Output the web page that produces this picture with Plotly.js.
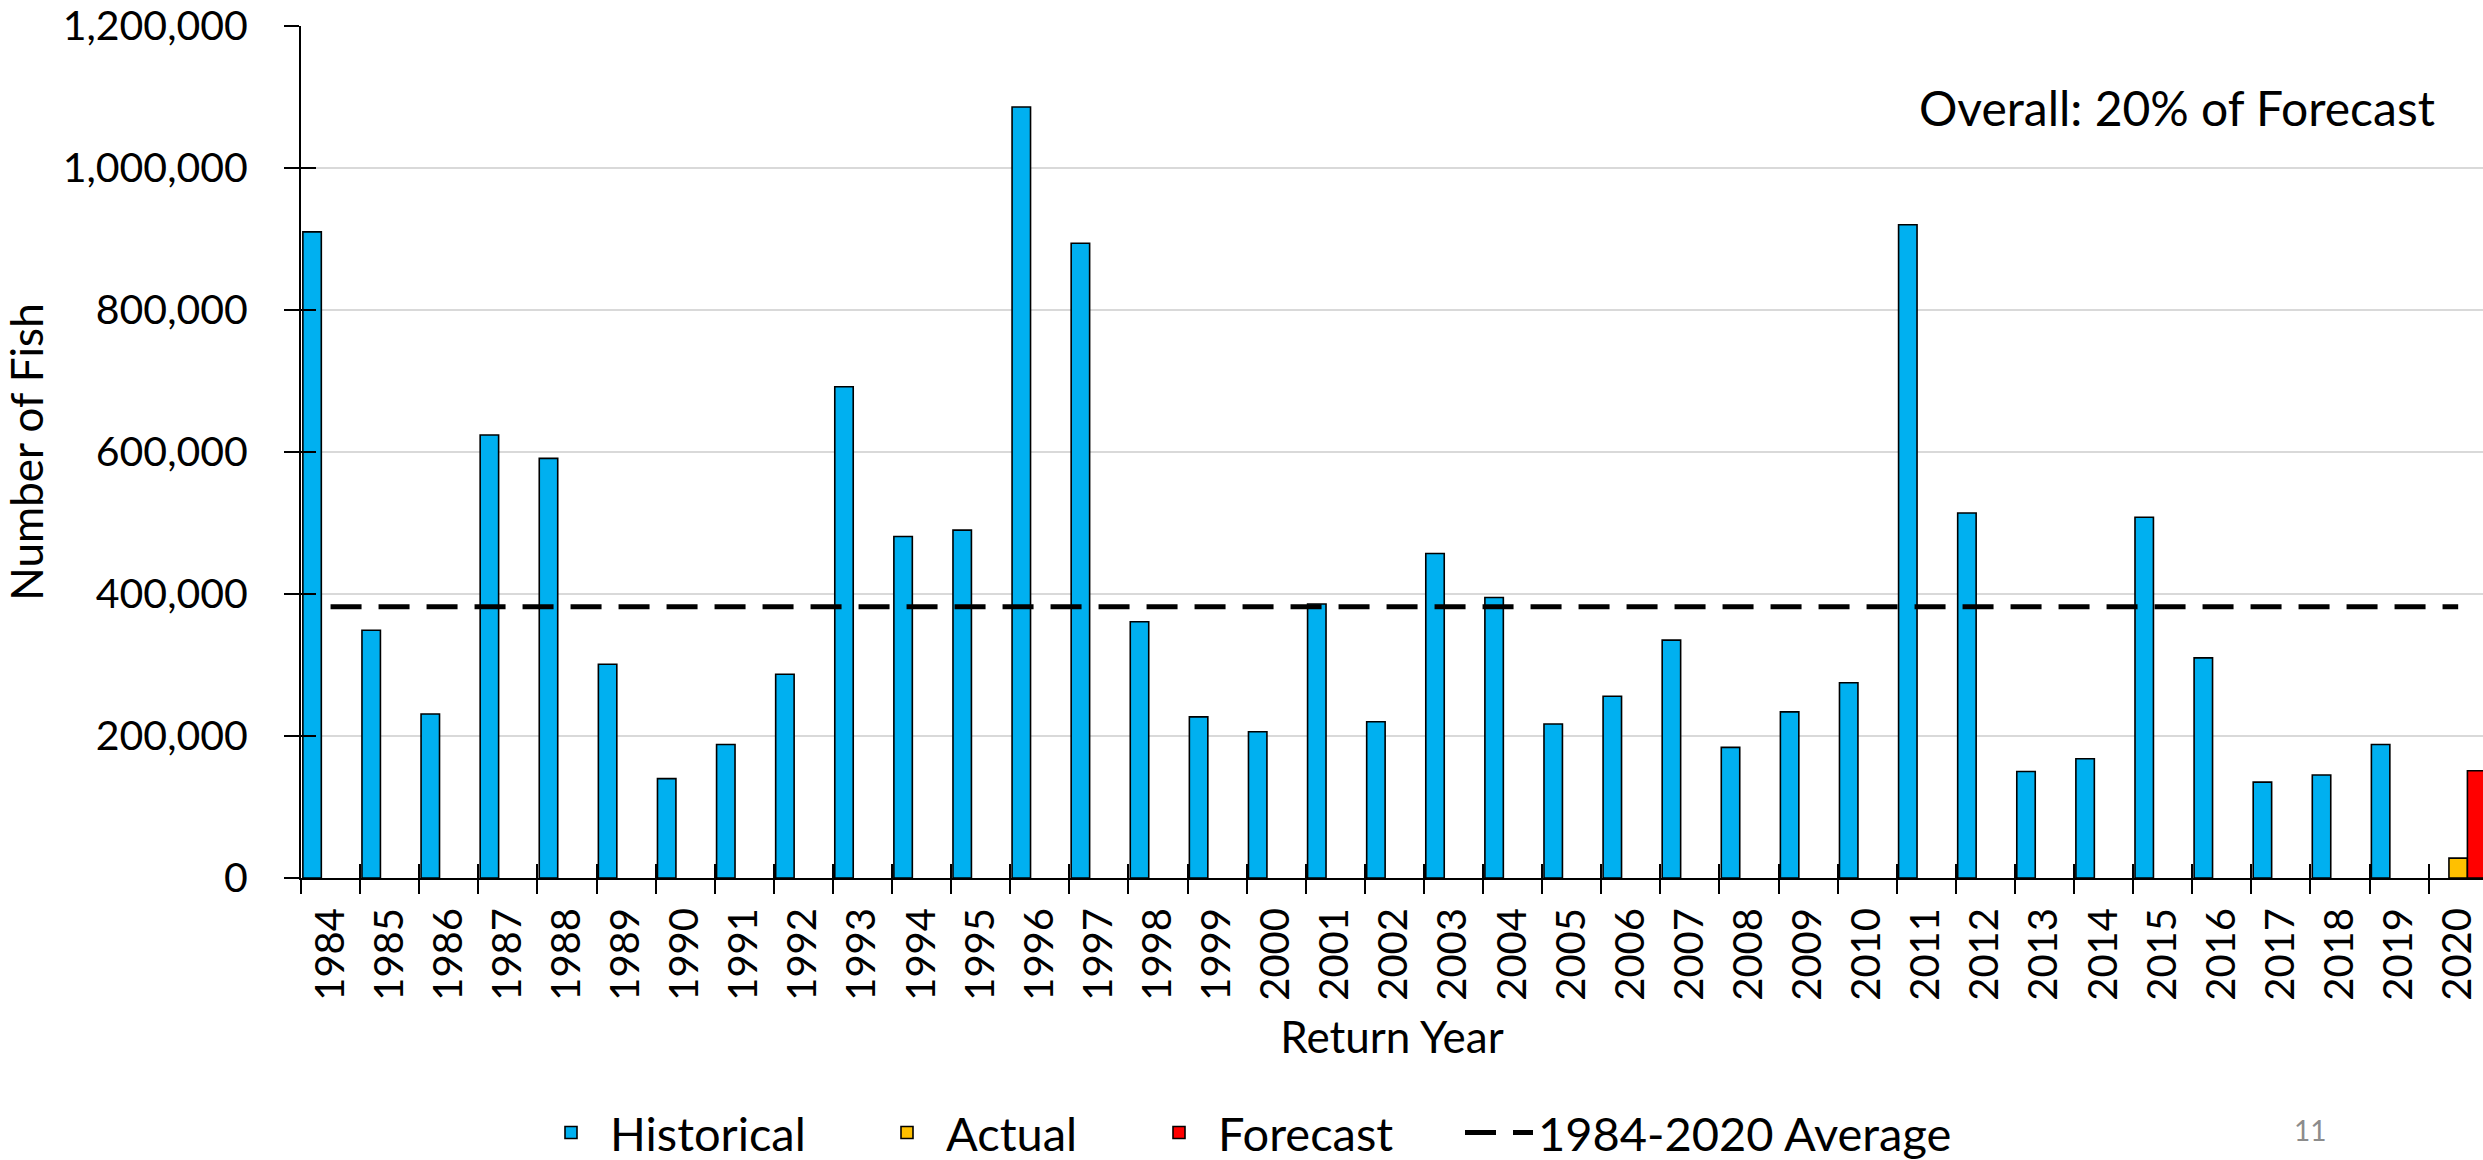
<!DOCTYPE html>
<html>
<head>
<meta charset="utf-8">
<script src="https://cdn.plot.ly/plotly-3.0.1.min.js"></script>
<style>
html,body{margin:0;padding:0;overflow:hidden;background:#ffffff;}
#chart{width:2483px;height:1160px;}
</style>
</head>
<body>
<div id="chart"></div>
<script>
// ---- Data ----
const years = ['1984','1985','1986','1987','1988','1989','1990','1991','1992','1993',
  '1994','1995','1996','1997','1998','1999','2000','2001','2002','2003',
  '2004','2005','2006','2007','2008','2009','2010','2011','2012','2013',
  '2014','2015','2016','2017','2018','2019','2020'];

const historicalYears = ['1984','1985','1986','1987','1988','1989','1990','1991','1992','1993',
  '1994','1995','1996','1997','1998','1999','2000','2001','2002','2003',
  '2004','2005','2006','2007','2008','2009','2010','2011','2012','2013',
  '2014','2015','2016','2017','2018','2019'];
const historical = [910000, 349000, 231000, 624000, 591000, 301000, 140000, 188000, 287000, 692000,
  481000, 490000, 1086000, 894000, 361000, 227000, 206000, 386000, 220000, 457000,
  395000, 217000, 256000, 335000, 184000, 234000, 275000, 920000, 514000, 150000,
  168000, 508000, 310000, 135000, 145000, 188000];

const actualYears = ['2020'];
const actual = [28000];

const forecastYears = ['2020'];
const forecast = [151000];

const average = [382000, 382000, 382000, 382000, 382000, 382000, 382000, 382000, 382000, 382000,
  382000, 382000, 382000, 382000, 382000, 382000, 382000, 382000, 382000, 382000,
  382000, 382000, 382000, 382000, 382000, 382000, 382000, 382000, 382000, 382000,
  382000, 382000, 382000, 382000, 382000, 382000, 382000];

const yTicks = [0, 200000, 400000, 600000, 800000, 1000000, 1200000];
const yTickLabels = ['0', '200,000', '400,000', '600,000', '800,000', '1,000,000', '1,200,000'];

// ---- Chart ----
const FONT = 'Lato, "Open Sans", sans-serif';
const barLine = {color: '#000000', width: 1.6};

const traces = [
  {type: 'bar', name: 'Historical', x: historicalYears, y: historical, legend: 'legend',
   marker: {color: '#00B0F0', line: barLine}, xaxis: 'x', yaxis: 'y'},
  {type: 'bar', name: 'Actual', x: actualYears, y: actual, legend: 'legend2',
   marker: {color: '#FFC000', line: barLine}, xaxis: 'x', yaxis: 'y'},
  {type: 'bar', name: 'Forecast', x: forecastYears, y: forecast, legend: 'legend3',
   marker: {color: '#FF0000', line: barLine}, xaxis: 'x', yaxis: 'y'},
  {type: 'scatter', mode: 'lines', name: '1984-2020 Average', x: years, y: average, legend: 'legend4',
   line: {color: '#000000', width: 5, dash: '31px,17px'}, xaxis: 'x2', yaxis: 'y2'}
];

const xRange = [-0.5, 36.42];
const yRange = [0, 1200000];

function legendAt(px) {
  return {
    orientation: 'h', xref: 'container', yref: 'container',
    x: px / 2483, y: (1160 - 1133) / 1160, xanchor: 'left', yanchor: 'middle',
    font: {family: FONT, size: 47, color: '#000000'},
    bgcolor: 'rgba(0,0,0,0)', borderwidth: 0, itemwidth: 68
  };
}

const layout = {
  width: 2483, height: 1160,
  margin: {l: 301, r: 0, t: 26, b: 282, pad: 0},
  paper_bgcolor: '#ffffff', plot_bgcolor: '#ffffff',
  font: {family: FONT, color: '#000000'},
  barmode: 'group', bargap: 0.063, bargroupgap: 0,
  showlegend: true,
  xaxis: {
    type: 'category', categoryorder: 'array', categoryarray: years, range: xRange,
    tickson: 'boundaries', ticks: 'outside', ticklen: 14, tickwidth: 2, tickcolor: '#000000',
    showline: true, linecolor: '#000000', linewidth: 2, showgrid: false, zeroline: false,
    tickangle: -90, tickfont: {family: FONT, size: 40, color: '#000000'}, ticklabelstandoff: 12,
    title: {text: 'Return Year', font: {family: FONT, size: 44, color: '#000000'}, standoff: 22},
    automargin: false, fixedrange: true
  },
  yaxis: {
    range: yRange, tickmode: 'array', tickvals: yTicks, ticktext: yTickLabels,
    ticks: 'outside', ticklen: 15, tickwidth: 2, tickcolor: '#000000',
    showline: true, linecolor: '#000000', linewidth: 2,
    showgrid: true, gridcolor: '#D9D9D9', gridwidth: 2, zeroline: false,
    tickfont: {family: FONT, size: 41, color: '#000000'}, ticklabelstandoff: 28,
    title: {text: 'Number of Fish', font: {family: FONT, size: 44, color: '#000000'}, standoff: 18},
    automargin: false, fixedrange: true
  },
  xaxis2: {
    overlaying: 'x', type: 'category', categoryorder: 'array', categoryarray: years, range: xRange,
    tickson: 'boundaries', ticks: 'inside', ticklen: 14, tickwidth: 2, tickcolor: '#000000',
    showticklabels: false, showgrid: false, showline: false, zeroline: false, fixedrange: true
  },
  yaxis2: {
    overlaying: 'y', side: 'left', range: yRange, tickmode: 'array', tickvals: yTicks,
    ticks: 'inside', ticklen: 15, tickwidth: 2, tickcolor: '#000000',
    showticklabels: false, showgrid: false, showline: false, zeroline: false, fixedrange: true
  },
  legend: legendAt(532),
  legend2: legendAt(868),
  legend3: legendAt(1140),
  legend4: legendAt(1460),
  annotations: [
    {text: 'Overall: 20% of Forecast', xref: 'paper', yref: 'paper', x: 0.979, y: 0.904,
     xanchor: 'right', yanchor: 'middle', showarrow: false,
     font: {family: FONT, size: 48, color: '#000000'}},
    {text: '11', xref: 'paper', yref: 'paper', x: 0.9207, y: -0.2954,
     xanchor: 'center', yanchor: 'middle', showarrow: false,
     font: {family: FONT, size: 28, color: '#8C8C8C'}}
  ]
};

Plotly.newPlot('chart', traces, layout, {displayModeBar: false, staticPlot: true});
</script>
</body>
</html>
